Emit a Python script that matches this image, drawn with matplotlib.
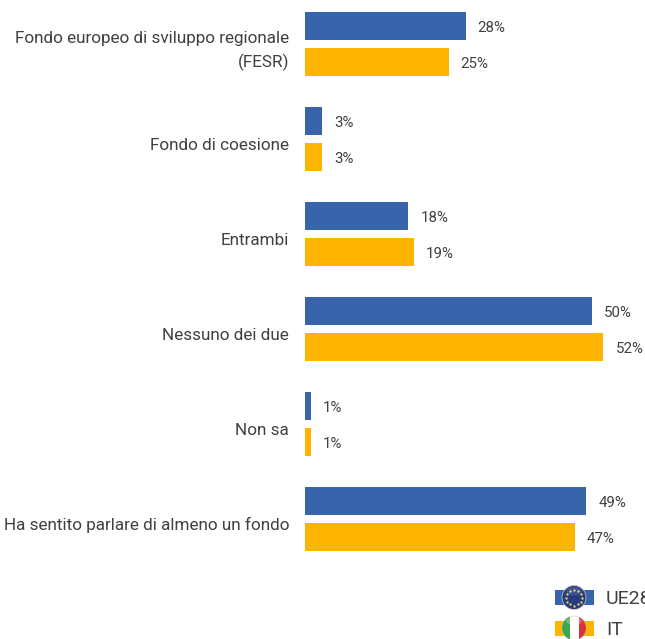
import numpy as np
import matplotlib
matplotlib.use("Agg")
import matplotlib.pyplot as plt
from matplotlib.patches import Rectangle, Circle, Ellipse

categories = [
    "Fondo europeo di sviluppo regionale\n(FESR)",
    "Fondo di coesione",
    "Entrambi",
    "Nessuno dei due",
    "Non sa",
    "Ha sentito parlare di almeno un fondo",
]
ue28 = [28, 3, 18, 50, 1, 49]
it = [25, 3, 19, 52, 1, 47]
legend_labels = ["UE28", "IT"]

BLUE = "#3764AB"
YELLOW = "#FFB400"
TEXT = "#404040"
W, H = 645, 639

plt.rcParams["font.family"] = ["Roboto", "Liberation Sans", "DejaVu Sans"]

fig = plt.figure(figsize=(W / 100, H / 100), dpi=100)
ax = fig.add_axes([0, 0, 1, 1])
ax.set_xlim(0, W)
ax.set_ylim(H, 0)
ax.axis("off")

# pixel scale of the bars
x0 = 305
per_pct = 5.74
y_start = 26
step = 95
line_h = 25

for i, cat in enumerate(categories):
    yc = y_start + i * step
    ax.barh(yc, ue28[i] * per_pct, height=28, left=x0, color=BLUE)
    ax.barh(yc + 36, it[i] * per_pct, height=28, left=x0, color=YELLOW)
    ax.text(x0 + ue28[i] * per_pct + 12, yc + 6, f"{ue28[i]}%", va="baseline", ha="left",
            fontsize=10.8, color=TEXT)
    ax.text(x0 + it[i] * per_pct + 12, yc + 42, f"{it[i]}%", va="baseline", ha="left",
            fontsize=10.8, color=TEXT)
    # category lines drawn one by one to keep the wide line gap
    lines = cat.split("\n")
    for j, line in enumerate(lines):
        y = yc + 29 - line_h * (len(lines) - 1) / 2 + j * line_h
        ax.text(289, y, line, va="baseline", ha="right", fontsize=12.35, color=TEXT)


def round_flag(cx, cy, band_color):
    # coloured band behind a small round badge
    ax.add_patch(Rectangle((cx - 19, cy - 7.5), 38.5, 15, color=band_color, lw=0))
    disc = Circle((cx, cy), 12, facecolor="white", edgecolor="#D0D0D0", lw=0.5, zorder=3)
    ax.add_patch(disc)
    return disc


# legend with small flags
disc = round_flag(574, 597.5, BLUE)
disc.set_facecolor("#27397F")
angles = np.linspace(0, 2 * np.pi, 12, endpoint=False)
ax.scatter(574 + 8 * np.cos(angles), 597.5 + 8 * np.sin(angles), s=3,
           color="#D9CF5A", lw=0, zorder=4)
shine = Ellipse((574, 591), 16, 9, color="white", alpha=0.12, lw=0, zorder=4)
ax.add_patch(shine)

disc = round_flag(574, 628, YELLOW)
for left, col in [(561, "#3FA650"), (578.5, "#D9333F")]:
    band = Rectangle((left, 614), 8.5, 28, color=col, lw=0, zorder=4)
    ax.add_patch(band)
    band.set_clip_path(disc)
shine = Ellipse((574, 621), 16, 8, color="white", alpha=0.25, lw=0, zorder=5)
ax.add_patch(shine)

ax.text(606, 604, legend_labels[0], va="baseline", ha="left", fontsize=14, color=TEXT)
ax.text(606, 635, legend_labels[1], va="baseline", ha="left", fontsize=14, color=TEXT)

fig.savefig("out.png", dpi=100)
